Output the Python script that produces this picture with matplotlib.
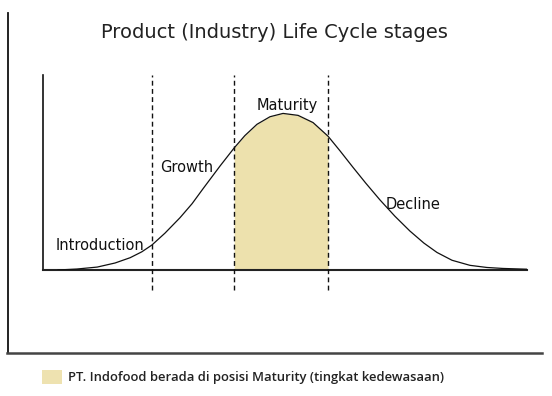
import numpy as np
import matplotlib
matplotlib.use("Agg")
import matplotlib.pyplot as plt
from matplotlib.lines import Line2D
from matplotlib.patches import Patch

# ---- data ----
time = [3.1, 7.0, 11.2, 14.9, 18.0, 20.4, 22.5, 25.2, 28.3, 30.8, 33.1, 36.6,
        39.5, 41.7, 44.2, 46.9, 49.6, 52.7, 55.8, 58.9, 61.4, 64.0, 66.7,
        69.6, 72.7, 75.8, 78.7, 81.4, 84.5, 88.2, 91.7, 95.0, 100.0]
sales = [0.0, 0.5, 1.5, 3.6, 6.3, 9.3, 12.8, 18.9, 26.8, 34.0, 41.8, 53.4,
         62.6, 68.9, 74.7, 78.6, 80.3, 79.3, 75.6, 68.6, 61.0, 52.8, 44.5,
         36.0, 27.6, 20.0, 13.8, 9.0, 5.0, 2.4, 1.3, 0.8, 0.4]
stage_bounds = [22.5, 39.5, 58.9]          # Introduction|Growth, Growth|Maturity, Maturity|Decline
stage_labels = ["Introduction", "Growth", "Maturity", "Decline"]
label_pos = [(2.7, 12.8), (24.2, 52.8), (44.2, 84.6), (70.7, 33.8)]
highlight = ("Maturity", 39.5, 58.9)
title = "Product (Industry) Life Cycle stages"
legend_text = "PT. Indofood berada di posisi Maturity (tingkat kedewasaan)"
fill_color = "#ede1ad"

W, H = 552, 396
fig = plt.figure(figsize=(W / 100, H / 100), dpi=100)
fig.patch.set_facecolor("white")

# axes: left 43px, right 527px, baseline y=270px, top y=75px
ax = fig.add_axes([43 / W, (H - 270) / H, (527 - 43) / W, (270 - 75) / H])
ax.set_xlim(0, 100)
ax.set_ylim(0, 100)
ax.set_xticks([])
ax.set_yticks([])
for sp in ["top", "right"]:
    ax.spines[sp].set_visible(False)
ax.spines["left"].set_linewidth(1.2)
ax.spines["left"].set_color("#111111")
ax.spines["bottom"].set_linewidth(1.5)
ax.spines["bottom"].set_color("#222222")
ax.patch.set_alpha(0)

t = np.array(time)
s = np.array(sales)
mask = (t >= highlight[1] - 1e-9) & (t <= highlight[2] + 1e-9)
ax.fill_between(t[mask], 0, s[mask], color=fill_color, linewidth=0, zorder=1)
ax.plot(t, s, color="#111111", lw=0.9, zorder=3, solid_joinstyle="round")

for b in stage_bounds:
    ax.plot([b, b], [-10.5, 100], color="#111111", lw=1.0,
            linestyle=(0, (3.5, 2.4)), clip_on=False, zorder=4)

for lab, (x, y) in zip(stage_labels, label_pos):
    ax.text(x, y, lab, ha="left", va="center", fontsize=10.5,
            family="DejaVu Sans", color="#111111", zorder=5)

# outer frame (left and bottom lines)
fig.add_artist(Line2D([7.5 / W, 7.5 / W], [(H - 13) / H, (H - 353) / H],
                      transform=fig.transFigure, color="#111111", lw=1.3))
fig.add_artist(Line2D([7 / W, 542 / W], [(H - 353) / H, (H - 353) / H],
                      transform=fig.transFigure, color="#444444", lw=1.8))

fig.text(274 / W, (H - 33) / H, title, ha="center", va="center",
         fontsize=14.0, family="DejaVu Sans", color="#222222")

fs = 9.4
px = fs * 100 / 72
leg = fig.legend(handles=[Patch(facecolor="#eee2b0", edgecolor="none")],
                 labels=[legend_text], loc="center left",
                 bbox_to_anchor=(42 / W, (H - 377) / H), frameon=False,
                 borderpad=0, borderaxespad=0, handlelength=20 / px,
                 handleheight=18 / px, handletextpad=6 / px,
                 prop={"family": "Open Sans", "weight": "semibold", "size": fs})
for txt in leg.get_texts():
    txt.set_color("#222222")

fig.savefig("out.png", dpi=100, facecolor="white")
